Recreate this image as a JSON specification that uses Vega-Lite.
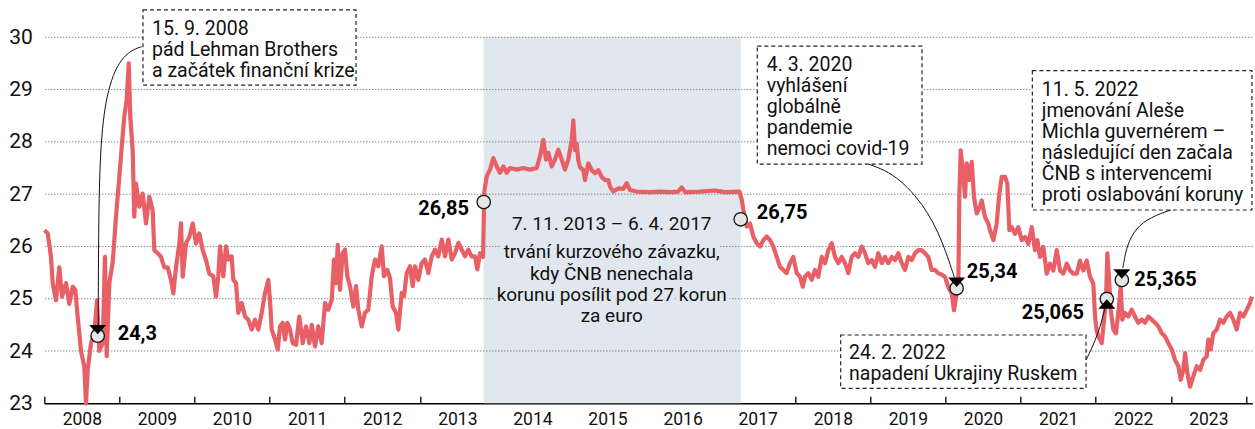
{
  "$schema": "https://vega.github.io/schema/vega-lite/v6.json",
  "width": 1208,
  "height": 402.6,
  "autosize": {"type": "none"},
  "padding": {"left": 44.3, "top": 0.7, "right": 2.7, "bottom": 25.7},
  "config": {"view": {"stroke": null}, "font": "Roboto"},
  "datasets": {
    "rate": [
      {"t":2008.003,"v":26.31},{"t":2008.045,"v":26.25},{"t":2008.089,"v":25.8},{"t":2008.112,"v":25.3},{"t":2008.156,"v":24.97},{"t":2008.2,"v":25.6},{"t":2008.236,"v":25.04},{"t":2008.289,"v":25.3},{"t":2008.333,"v":24.9},{"t":2008.378,"v":25.23},{"t":2008.413,"v":25.17},{"t":2008.445,"v":24.65},{"t":2008.489,"v":24.0},{"t":2008.533,"v":23.7},{"t":2008.555,"v":23.0},{"t":2008.578,"v":23.64},{"t":2008.622,"v":24.15},{"t":2008.666,"v":24.34},{"t":2008.702,"v":24.97},{"t":2008.732,"v":24.0},{"t":2008.778,"v":24.15},{"t":2008.808,"v":25.8},{"t":2008.831,"v":23.9},{"t":2008.866,"v":25.3},{"t":2008.911,"v":25.7},{"t":2008.955,"v":26.57},{"t":2008.999,"v":27.33},
      {"t":2009.035,"v":27.97},{"t":2009.065,"v":28.48},{"t":2009.097,"v":28.8},{"t":2009.124,"v":29.5},{"t":2009.145,"v":28.48},{"t":2009.177,"v":27.84},{"t":2009.198,"v":26.57},{"t":2009.221,"v":27.2},{"t":2009.265,"v":26.76},{"t":2009.31,"v":27.01},{"t":2009.354,"v":26.44},{"t":2009.398,"v":26.95},{"t":2009.443,"v":26.69},{"t":2009.465,"v":25.93},{"t":2009.51,"v":25.87},{"t":2009.554,"v":25.8},{"t":2009.598,"v":25.6},{"t":2009.643,"v":25.6},{"t":2009.687,"v":25.36},{"t":2009.718,"v":25.1},{"t":2009.754,"v":25.6},{"t":2009.798,"v":26.06},{"t":2009.82,"v":26.44},{"t":2009.843,"v":25.42},{"t":2009.887,"v":26.06},{"t":2009.931,"v":26.18},{"t":2009.976,"v":26.44},
      {"t":2010.02,"v":26.06},{"t":2010.064,"v":26.25},{"t":2010.109,"v":25.93},{"t":2010.153,"v":25.74},{"t":2010.197,"v":25.48},{"t":2010.25,"v":25.43},{"t":2010.286,"v":25.04},{"t":2010.317,"v":25.43},{"t":2010.34,"v":26.0},{"t":2010.384,"v":25.43},{"t":2010.419,"v":26.0},{"t":2010.45,"v":25.75},{"t":2010.495,"v":25.81},{"t":2010.517,"v":25.36},{"t":2010.553,"v":25.3},{"t":2010.583,"v":24.73},{"t":2010.629,"v":24.92},{"t":2010.673,"v":24.66},{"t":2010.716,"v":24.6},{"t":2010.762,"v":24.41},{"t":2010.806,"v":24.6},{"t":2010.85,"v":24.41},{"t":2010.895,"v":24.73},{"t":2010.939,"v":25.11},{"t":2010.983,"v":25.36},
      {"t":2011.005,"v":24.98},{"t":2011.028,"v":24.41},{"t":2011.072,"v":24.22},{"t":2011.108,"v":24.03},{"t":2011.139,"v":24.47},{"t":2011.174,"v":24.54},{"t":2011.205,"v":24.22},{"t":2011.236,"v":24.54},{"t":2011.272,"v":24.41},{"t":2011.308,"v":24.15},{"t":2011.352,"v":24.12},{"t":2011.395,"v":24.66},{"t":2011.441,"v":24.15},{"t":2011.485,"v":24.47},{"t":2011.529,"v":24.15},{"t":2011.561,"v":24.5},{"t":2011.605,"v":24.09},{"t":2011.648,"v":24.47},{"t":2011.694,"v":24.15},{"t":2011.738,"v":24.92},{"t":2011.782,"v":24.79},{"t":2011.827,"v":24.98},{"t":2011.858,"v":25.75},{"t":2011.884,"v":25.3},{"t":2011.907,"v":26.03},{"t":2011.937,"v":25.17},{"t":2011.973,"v":25.87},
      {"t":2012.004,"v":25.94},{"t":2012.035,"v":25.43},{"t":2012.071,"v":25.24},{"t":2012.115,"v":24.85},{"t":2012.151,"v":25.24},{"t":2012.181,"v":24.79},{"t":2012.226,"v":24.47},{"t":2012.27,"v":24.73},{"t":2012.314,"v":24.79},{"t":2012.36,"v":25.43},{"t":2012.404,"v":25.75},{"t":2012.447,"v":25.62},{"t":2012.493,"v":26.0},{"t":2012.523,"v":25.43},{"t":2012.567,"v":25.55},{"t":2012.603,"v":25.4},{"t":2012.639,"v":24.85},{"t":2012.683,"v":24.73},{"t":2012.714,"v":24.41},{"t":2012.759,"v":25.11},{"t":2012.79,"v":25.05},{"t":2012.826,"v":25.49},{"t":2012.87,"v":25.62},{"t":2012.906,"v":25.24},{"t":2012.936,"v":25.62},{"t":2012.98,"v":25.36},
      {"t":2013.025,"v":25.68},{"t":2013.069,"v":25.75},{"t":2013.113,"v":25.49},{"t":2013.159,"v":25.81},{"t":2013.202,"v":25.94},{"t":2013.246,"v":25.81},{"t":2013.292,"v":26.13},{"t":2013.336,"v":25.81},{"t":2013.38,"v":26.13},{"t":2013.425,"v":25.75},{"t":2013.469,"v":25.87},{"t":2013.513,"v":26.07},{"t":2013.558,"v":25.94},{"t":2013.602,"v":25.81},{"t":2013.646,"v":25.94},{"t":2013.691,"v":25.81},{"t":2013.735,"v":25.81},{"t":2013.766,"v":25.56},{"t":2013.802,"v":25.87},{"t":2013.842,"v":25.8},{"t":2013.859,"v":27.05},{"t":2013.891,"v":27.34},{"t":2013.935,"v":27.47},{"t":2013.979,"v":27.69},
      {"t":2014.024,"v":27.53},{"t":2014.068,"v":27.41},{"t":2014.112,"v":27.53},{"t":2014.157,"v":27.41},{"t":2014.201,"v":27.5},{"t":2014.29,"v":27.47},{"t":2014.378,"v":27.5},{"t":2014.468,"v":27.47},{"t":2014.557,"v":27.5},{"t":2014.601,"v":27.73},{"t":2014.645,"v":28.04},{"t":2014.681,"v":27.66},{"t":2014.711,"v":27.79},{"t":2014.756,"v":27.53},{"t":2014.8,"v":27.66},{"t":2014.844,"v":27.85},{"t":2014.89,"v":27.66},{"t":2014.933,"v":27.47},{"t":2014.977,"v":27.66},
      {"t":2015.023,"v":28.04},{"t":2015.044,"v":28.41},{"t":2015.067,"v":27.84},{"t":2015.089,"v":27.97},{"t":2015.111,"v":27.65},{"t":2015.133,"v":27.52},{"t":2015.177,"v":27.46},{"t":2015.2,"v":27.27},{"t":2015.244,"v":27.59},{"t":2015.289,"v":27.46},{"t":2015.333,"v":27.4},{"t":2015.377,"v":27.46},{"t":2015.422,"v":27.33},{"t":2015.466,"v":27.27},{"t":2015.51,"v":27.27},{"t":2015.533,"v":27.14},{"t":2015.577,"v":27.05},{"t":2015.643,"v":27.11},{"t":2015.71,"v":27.1},{"t":2015.755,"v":27.21},{"t":2015.799,"v":27.08},{"t":2015.888,"v":27.05},
      {"t":2016.065,"v":27.04},{"t":2016.198,"v":27.05},{"t":2016.332,"v":27.04},{"t":2016.438,"v":27.05},{"t":2016.487,"v":27.13},{"t":2016.531,"v":27.04},{"t":2016.731,"v":27.05},{"t":2016.931,"v":27.07},
      {"t":2017.064,"v":27.04},{"t":2017.257,"v":27.05},{"t":2017.287,"v":26.89},{"t":2017.308,"v":26.7},{"t":2017.353,"v":26.38},{"t":2017.397,"v":26.44},{"t":2017.441,"v":26.19},{"t":2017.486,"v":26.06},{"t":2017.53,"v":26.0},{"t":2017.574,"v":26.12},{"t":2017.619,"v":26.19},{"t":2017.663,"v":26.12},{"t":2017.707,"v":26.0},{"t":2017.752,"v":25.8},{"t":2017.796,"v":25.61},{"t":2017.84,"v":25.55},{"t":2017.885,"v":25.49},{"t":2017.929,"v":25.68},{"t":2017.973,"v":25.8},
      {"t":2018.019,"v":25.49},{"t":2018.063,"v":25.42},{"t":2018.099,"v":25.23},{"t":2018.129,"v":25.42},{"t":2018.173,"v":25.49},{"t":2018.218,"v":25.36},{"t":2018.262,"v":25.55},{"t":2018.306,"v":25.42},{"t":2018.352,"v":25.8},{"t":2018.396,"v":25.68},{"t":2018.44,"v":25.93},{"t":2018.485,"v":26.06},{"t":2018.529,"v":25.8},{"t":2018.573,"v":25.68},{"t":2018.618,"v":25.8},{"t":2018.662,"v":25.68},{"t":2018.706,"v":25.49},{"t":2018.751,"v":25.8},{"t":2018.795,"v":25.87},{"t":2018.839,"v":25.8},{"t":2018.884,"v":26.0},{"t":2018.928,"v":25.87},{"t":2018.972,"v":25.68},
      {"t":2019.017,"v":25.74},{"t":2019.061,"v":25.61},{"t":2019.105,"v":25.87},{"t":2019.151,"v":25.68},{"t":2019.194,"v":25.8},{"t":2019.238,"v":25.68},{"t":2019.284,"v":25.8},{"t":2019.328,"v":25.74},{"t":2019.372,"v":25.87},{"t":2019.417,"v":25.68},{"t":2019.461,"v":25.55},{"t":2019.505,"v":25.8},{"t":2019.55,"v":25.74},{"t":2019.594,"v":25.87},{"t":2019.638,"v":25.93},{"t":2019.683,"v":25.93},{"t":2019.727,"v":25.87},{"t":2019.771,"v":25.8},{"t":2019.816,"v":25.55},{"t":2019.86,"v":25.55},{"t":2019.904,"v":25.49},{"t":2019.95,"v":25.46},{"t":2019.993,"v":25.42},
      {"t":2020.037,"v":25.22},{"t":2020.083,"v":25.1},{"t":2020.113,"v":24.78},{"t":2020.14,"v":25.03},{"t":2020.171,"v":25.29},{"t":2020.184,"v":26.95},{"t":2020.202,"v":27.84},{"t":2020.229,"v":27.46},{"t":2020.26,"v":26.95},{"t":2020.282,"v":27.59},{"t":2020.317,"v":27.27},{"t":2020.349,"v":27.62},{"t":2020.379,"v":26.95},{"t":2020.416,"v":26.63},{"t":2020.459,"v":26.76},{"t":2020.482,"v":26.88},{"t":2020.526,"v":26.56},{"t":2020.57,"v":26.44},{"t":2020.593,"v":26.31},{"t":2020.637,"v":26.12},{"t":2020.682,"v":26.44},{"t":2020.712,"v":26.95},{"t":2020.749,"v":27.33},{"t":2020.793,"v":27.33},{"t":2020.823,"v":27.2},{"t":2020.85,"v":26.31},{"t":2020.882,"v":26.37},{"t":2020.926,"v":26.24},{"t":2020.969,"v":26.37},
      {"t":2021.015,"v":26.12},{"t":2021.059,"v":26.18},{"t":2021.103,"v":26.05},{"t":2021.148,"v":26.37},{"t":2021.192,"v":25.93},{"t":2021.223,"v":26.12},{"t":2021.258,"v":25.8},{"t":2021.302,"v":25.99},{"t":2021.348,"v":25.48},{"t":2021.392,"v":25.67},{"t":2021.436,"v":25.54},{"t":2021.481,"v":25.93},{"t":2021.525,"v":25.54},{"t":2021.569,"v":25.48},{"t":2021.614,"v":25.67},{"t":2021.658,"v":25.54},{"t":2021.702,"v":25.48},{"t":2021.747,"v":25.48},{"t":2021.791,"v":25.73},{"t":2021.835,"v":25.54},{"t":2021.88,"v":25.73},{"t":2021.924,"v":25.42},{"t":2021.968,"v":25.29},{"t":2021.991,"v":24.66},
      {"t":2022.013,"v":24.39},{"t":2022.035,"v":24.28},{"t":2022.08,"v":24.15},{"t":2022.111,"v":24.6},{"t":2022.137,"v":24.98},{"t":2022.155,"v":25.87},{"t":2022.181,"v":25.3},{"t":2022.2,"v":24.79},{"t":2022.235,"v":24.41},{"t":2022.27,"v":24.34},{"t":2022.301,"v":24.73},{"t":2022.333,"v":25.24},{"t":2022.354,"v":24.6},{"t":2022.39,"v":24.73},{"t":2022.434,"v":24.66},{"t":2022.479,"v":24.79},{"t":2022.523,"v":24.66},{"t":2022.567,"v":24.54},{"t":2022.613,"v":24.6},{"t":2022.657,"v":24.54},{"t":2022.701,"v":24.66},{"t":2022.746,"v":24.6},{"t":2022.79,"v":24.54},{"t":2022.834,"v":24.47},{"t":2022.879,"v":24.34},{"t":2022.923,"v":24.28},{"t":2022.967,"v":24.15},
      {"t":2023.012,"v":24.03},{"t":2023.056,"v":23.83},{"t":2023.1,"v":23.71},{"t":2023.132,"v":23.45},{"t":2023.167,"v":23.64},{"t":2023.19,"v":23.96},{"t":2023.22,"v":23.58},{"t":2023.256,"v":23.32},{"t":2023.3,"v":23.52},{"t":2023.346,"v":23.71},{"t":2023.39,"v":23.64},{"t":2023.433,"v":23.83},{"t":2023.478,"v":23.9},{"t":2023.5,"v":24.22},{"t":2023.531,"v":24.03},{"t":2023.566,"v":24.34},{"t":2023.611,"v":24.41},{"t":2023.655,"v":24.6},{"t":2023.699,"v":24.54},{"t":2023.744,"v":24.66},{"t":2023.788,"v":24.73},{"t":2023.832,"v":24.6},{"t":2023.877,"v":24.41},{"t":2023.921,"v":24.73},{"t":2023.965,"v":24.66},
      {"t":2024.011,"v":24.79},{"t":2024.055,"v":24.92},{"t":2024.08,"v":25.04}
    ],
    "grid": [{"g":24},{"g":25},{"g":26},{"g":27},{"g":28},{"g":29},{"g":30}],
    "peg": [{"from":2013.851,"to":2017.273}],
    "center": [
      {"t":2015.555,"v":26.314,"text":"7. 11. 2013 – 6. 4. 2017"},
      {"t":2015.555,"v":25.773,"text":"trvání kurzového závazku,\nkdy ČNB nenechala\nkorunu posílit pod 27 korun\nza euro"}
    ],
    "boxes": [
      {"t":2009.314,"t2":2012.151,"v":29.087,"v2":30.523},
      {"t":2017.494,"t2":2019.687,"v":27.576,"v2":29.833},
      {"t":2021.156,"t2":2024.08,"v":26.697,"v2":29.361},
      {"t":2018.604,"t2":2021.871,"v":23.287,"v2":24.306}
    ],
    "notes": [
      {"t":2009.434,"v":30.044,"text":"15. 9. 2008\npád Lehman Brothers\na začátek finanční krize"},
      {"t":2017.619,"v":29.355,"text":"4. 3. 2020\nvyhlášení\nglobálně\npandemie\nnemoci covid-19"},
      {"t":2021.281,"v":28.883,"text":"11. 5. 2022\njmenování Aleše\nMichla guvernérem –\nnásledující den začala\nČNB s intervencemi\nproti oslabování koruny"},
      {"t":2018.715,"v":23.841,"text":"24. 2. 2022\nnapadení Ukrajiny Ruskem"}
    ],
    "conn": [
      {"id":"a","i":0,"t":2009.297,"v":29.82},{"id":"a","i":1,"t":2009.185,"v":29.77},{"id":"a","i":2,"t":2009.052,"v":29.628},{"id":"a","i":3,"t":2008.941,"v":29.374},{"id":"a","i":4,"t":2008.852,"v":28.992},{"id":"a","i":5,"t":2008.795,"v":28.546},{"id":"a","i":6,"t":2008.755,"v":27.972},{"id":"a","i":7,"t":2008.732,"v":27.142},{"id":"a","i":8,"t":2008.724,"v":26.251},{"id":"a","i":9,"t":2008.719,"v":25.295},{"id":"a","i":10,"t":2008.719,"v":24.497},
      {"id":"b","i":0,"t":2018.972,"v":27.576},{"id":"b","i":1,"t":2019.194,"v":27.462},{"id":"b","i":2,"t":2019.394,"v":27.27},{"id":"b","i":3,"t":2019.594,"v":26.984},{"id":"b","i":4,"t":2019.767,"v":26.639},{"id":"b","i":5,"t":2019.9,"v":26.276},{"id":"b","i":6,"t":2020.006,"v":25.893},{"id":"b","i":7,"t":2020.086,"v":25.549},{"id":"b","i":8,"t":2020.126,"v":25.377},
      {"id":"c","i":0,"t":2021.871,"v":23.828},{"id":"c","i":1,"t":2021.951,"v":24.058},{"id":"c","i":2,"t":2022.031,"v":24.344},{"id":"c","i":3,"t":2022.084,"v":24.593},{"id":"c","i":4,"t":2022.124,"v":24.823},
      {"id":"d","i":0,"t":2023.0,"v":26.697},{"id":"d","i":1,"t":2022.734,"v":26.563},{"id":"d","i":2,"t":2022.534,"v":26.352},{"id":"d","i":3,"t":2022.414,"v":26.027},{"id":"d","i":4,"t":2022.361,"v":25.587}
    ],
    "pts": [
      {"t":2008.711,"v":24.293,"arrow":"down"},
      {"t":2013.851,"v":26.85,"arrow":"none"},
      {"t":2017.273,"v":26.519,"arrow":"none"},
      {"t":2020.148,"v":25.2,"arrow":"down"},
      {"t":2022.148,"v":24.995,"arrow":"up"},
      {"t":2022.348,"v":25.358,"arrow":"down"}
    ],
    "labels": [
      {"t":2008.977,"v":24.321,"text":"24,3","side":"right"},
      {"t":2013.655,"v":26.725,"text":"26,85","side":"left"},
      {"t":2017.486,"v":26.632,"text":"26,75","side":"right"},
      {"t":2020.282,"v":25.517,"text":"25,34","side":"right"},
      {"t":2022.514,"v":25.358,"text":"25,365","side":"right"},
      {"t":2021.844,"v":24.721,"text":"25,065","side":"left"}
    ]
  },
  "layer": [
    {
      "data": {"name": "peg"},
      "mark": {"type": "rect", "color": "#e1e7ee"},
      "encoding": {
        "x": {"field": "from", "type": "quantitative", "title": null, "scale": {"domain": [2008, 2024.085], "nice": false, "zero": false}},
        "x2": {"field": "to"},
        "y": {"datum": 23, "type": "quantitative", "title": null, "scale": {"domain": [23, 30.7], "nice": false, "zero": false}},
        "y2": {"datum": 30}
      }
    },
    {
      "data": {"name": "grid"},
      "mark": {"type": "rule", "color": "#555555", "strokeWidth": 1, "strokeDash": [1, 2]},
      "encoding": {"y": {"field": "g", "type": "quantitative", "title": null}}
    },
    {
      "encoding": {
        "x": {"field": "t", "type": "quantitative",
          "axis": {"values": [2008,2009,2010,2011,2012,2013,2014,2015,2016,2017,2018,2019,2020,2021,2022,2023,2024], "format": "d", "labelExpr": "datum.value >= 2024 ? '' : datum.label", "title": null, "grid": false, "domain": true, "ticks": true, "domainColor": "#000000", "domainWidth": 1.5, "tickColor": "#000000", "tickWidth": 1.3, "tickSize": -7, "labelOffset": 37.5, "labelFontSize": 17.5, "labelFont": "Roboto", "labelColor": "#111111", "labelBaseline": "alphabetic", "labelPadding": 28.2, "labelFlush": false, "labelOverlap": false, "labelBound": false}},
        "y": {"field": "v", "type": "quantitative",
          "axis": {"values": [23,24,25,26,27,28,29,30], "format": "d", "title": null, "grid": false, "domain": false, "ticks": false, "labelFontSize": 21, "labelFont": "Roboto", "labelColor": "#111111", "labelPadding": 12, "labelFlush": false, "labelBound": false}}
      },
      "layer": [
        {
          "data": {"name": "center"},
          "mark": {"type": "text", "align": "center", "baseline": "alphabetic", "lineBreak": "\n", "lineHeight": 21.3, "fontSize": 19, "font": "Roboto", "fill": "#e1e7ee", "stroke": "#e1e7ee", "strokeWidth": 8, "strokeJoin": "round"},
          "encoding": {"text": {"field": "text"}}
        },
        {
          "data": {"name": "center"},
          "mark": {"type": "text", "align": "center", "baseline": "alphabetic", "lineBreak": "\n", "lineHeight": 21.3, "fontSize": 19, "font": "Roboto", "color": "#111111"},
          "encoding": {"text": {"field": "text"}}
        },
        {
          "data": {"name": "rate"},
          "mark": {"type": "line", "color": "#e85f66", "strokeWidth": 4.2, "strokeJoin": "round"},
          "encoding": {}
        },
        {
          "data": {"name": "boxes"},
          "mark": {"type": "rect", "fill": "#ffffff", "stroke": "#222222", "strokeWidth": 1.2, "strokeDash": [4, 3]},
          "encoding": {"x2": {"field": "t2"}, "y2": {"field": "v2"}}
        },
        {
          "data": {"name": "notes"},
          "mark": {"type": "text", "align": "left", "baseline": "alphabetic", "lineBreak": "\n", "lineHeight": 21, "fontSize": 19.5, "font": "Roboto", "color": "#111111"},
          "encoding": {"text": {"field": "text"}}
        },
        {
          "data": {"name": "conn"},
          "mark": {"type": "line", "color": "#111111", "strokeWidth": 1, "interpolate": "basis"},
          "encoding": {"detail": {"field": "id"}, "order": {"field": "i", "type": "quantitative"}}
        },
        {
          "data": {"name": "pts"},
          "mark": {"type": "point", "shape": "circle", "filled": true, "size": 180, "fill": "#e6e6e6", "stroke": "#111111", "strokeWidth": 1.3, "opacity": 1},
          "encoding": {}
        },
        {
          "data": {"name": "pts"},
          "transform": [{"filter": "datum.arrow == 'down'"}],
          "mark": {"type": "point", "shape": "M-1,-0.55L1,-0.55L0,0.55Z", "filled": true, "size": 289, "color": "#000000", "opacity": 1, "yOffset": -6},
          "encoding": {}
        },
        {
          "data": {"name": "pts"},
          "transform": [{"filter": "datum.arrow == 'up'"}],
          "mark": {"type": "point", "shape": "M-1,0.55L1,0.55L0,-0.55Z", "filled": true, "size": 289, "color": "#000000", "opacity": 1, "yOffset": 5},
          "encoding": {}
        },
        {
          "data": {"name": "labels"},
          "transform": [{"filter": "datum.side == 'right'"}],
          "mark": {"type": "text", "align": "left", "baseline": "middle", "fontSize": 20, "fontWeight": "bold", "font": "Roboto", "color": "#000000"},
          "encoding": {"text": {"field": "text"}}
        },
        {
          "data": {"name": "labels"},
          "transform": [{"filter": "datum.side == 'left'"}],
          "mark": {"type": "text", "align": "right", "baseline": "middle", "fontSize": 20, "fontWeight": "bold", "font": "Roboto", "color": "#000000"},
          "encoding": {"text": {"field": "text"}}
        }
      ]
    }
  ]
}
